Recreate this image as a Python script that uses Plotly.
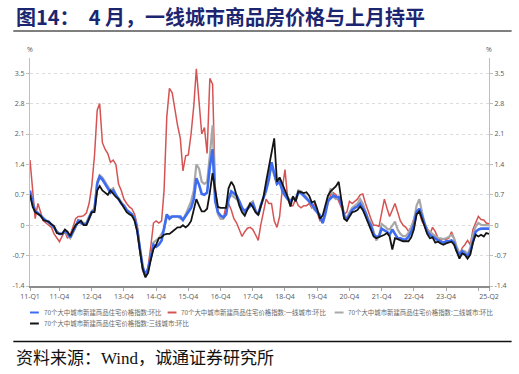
import pandas as pd
import plotly.graph_objects as go

# ---------------- data ----------------
months = pd.date_range("2011-01-01", periods=172, freq="MS")

series_names = [
    "70个大中城市新建商品住宅价格指数:环比",
    "70个大中城市新建商品住宅价格指数:一线城市:环比",
    "70个大中城市新建商品住宅价格指数:二线城市:环比",
    "70个大中城市新建商品住宅价格指数:三线城市:环比",
]

nat_mom = [
    0.8, 0.5, 0.32, 0.28, 0.22, 0.15, 0.1, 0.08, 0.02, -0.05,
    -0.15, -0.2, -0.2, -0.12, -0.18, -0.28, -0.15, -0.02, 0.1, 0.05,
    0.02, 0.02, 0.15, 0.3, 0.35, 0.95, 1.12, 1.05, 0.95, 0.85,
    0.75, 0.8, 0.68, 0.6, 0.5, 0.45, 0.35, 0.3, 0.25, 0.15,
    -0.1, -0.55, -0.95, -1.15, -1.0, -0.75, -0.45, -0.5, -0.45, -0.35,
    -0.05, 0.25, 0.15, 0.2, 0.2, 0.2, 0.2, 0.12, 0.22, 0.3,
    0.4, 0.6, 1.08, 0.93, 0.72, 0.7, 0.75, 1.35, 1.75, 0.55,
    0.3, 0.22, 0.18, 0.25, 0.6, 0.78, 0.72, 0.68, 0.55, 0.4,
    0.32, 0.38, 0.45, 0.5, 0.32, 0.24, 0.45, 0.62, 0.8, 1.05,
    1.45, 1.2, 0.95, 1.0, 0.8, 0.68, 0.6, 0.55, 0.62, 0.58,
    0.75, 0.74, 0.68, 0.63, 0.55, 0.48, 0.38, 0.3, 0.22, 0.05,
    0.25, 0.55, 0.62, 0.68, 0.65, 0.65, 0.5, 0.2, 0.13, 0.25,
    0.35, 0.4, 0.43, 0.5, 0.4, 0.28, 0.1, 0.0, -0.22, -0.26,
    -0.26, -0.08, -0.12, -0.15, -0.22, -0.1, -0.2, -0.3, -0.3, -0.33,
    -0.33, -0.27, -0.15, 0.0, 0.3, 0.38, 0.22, 0.03, -0.15, -0.22,
    -0.26, -0.32, -0.35, -0.38, -0.4, -0.37, -0.37, -0.35, -0.4, -0.6,
    -0.68, -0.6, -0.65, -0.72, -0.6, -0.35, -0.15, -0.1, -0.08, -0.08,
    -0.08, -0.08,
]

tier1_mom = [
    1.5, 0.7, 0.15, 0.5, 0.3, 0.1, 0.05, 0.0, -0.05, -0.2,
    -0.3, -0.38, -0.25, -0.15, -0.3, -0.22, -0.05, 0.15, 0.2, 0.2,
    0.22, 0.28, 0.5, 0.9, 1.6, 2.65, 2.8, 1.9, 1.75, 1.65,
    1.45, 1.5, 1.4, 0.95, 0.8, 0.6, 0.5, 0.42, 0.38, 0.25,
    0.0, -0.6, -1.05, -1.18, -0.95, -0.5, 0.05, 0.1, 0.05, 0.1,
    0.8, 2.5, 3.15, 3.05, 2.65, 2.3, 2.0, 1.25, 1.6, 1.62,
    2.1, 2.75, 3.6, 2.8, 2.1, 2.25, 1.65, 3.38, 3.25, 0.9,
    0.3, 0.15, 0.15, 0.45, 0.5, 0.35, 0.15, 0.05, -0.1, -0.26,
    -0.15, -0.07, -0.05, -0.1, -0.22, -0.35, 0.0, 0.3, 0.6, 0.5,
    0.5, 0.1, -0.05, 0.2, 0.85, 1.28, 0.6, 0.45, 0.45, 0.6,
    0.45, 0.4, 0.45, 0.45, 0.5, 0.4, 0.5, 0.3, 0.1, 0.1,
    0.3, 0.5, 0.7, 0.75, 0.7, 0.55, 0.4, 0.25, 0.3, 0.55,
    0.5, 0.55, 0.6, 0.7, 0.72, 0.5, 0.3, 0.15, 0.0, 0.0,
    -0.03, 0.3, 0.6, 0.38, 0.2, 0.35, 0.5, 0.3, 0.1, 0.0,
    -0.05, -0.14, -0.05, 0.15, 0.35, 0.3, 0.1, 0.0, -0.07, -0.2,
    -0.05, -0.15, -0.3, -0.35, -0.32, -0.33, -0.3, -0.15, -0.3, -0.55,
    -0.7, -0.52, -0.45, -0.35, -0.45, -0.1, 0.05, 0.2, 0.13, 0.12,
    0.05, 0.03,
]

tier2_mom = [
    0.75, 0.5, 0.33, 0.28, 0.22, 0.15, 0.1, 0.05, 0.0, -0.05,
    -0.15, -0.2, -0.2, -0.12, -0.22, -0.3, -0.18, -0.05, 0.12, 0.1,
    0.05, 0.05, 0.2, 0.33, 0.38, 1.0, 1.15, 1.1, 1.0, 0.9,
    0.8, 0.85, 0.7, 0.62, 0.52, 0.45, 0.35, 0.3, 0.25, 0.15,
    -0.1, -0.55, -0.98, -1.2, -1.05, -0.75, -0.4, -0.35, -0.3, -0.2,
    -0.1, 0.2, 0.2, 0.2, 0.2, 0.2, 0.15, 0.12, 0.25, 0.4,
    0.55, 0.8, 1.4, 1.3, 1.0, 0.95, 1.0, 1.6, 2.3, 0.6,
    0.25, 0.15, 0.15, 0.25, 0.6, 0.7, 0.65, 0.6, 0.55, 0.4,
    0.3, 0.4, 0.5, 0.55, 0.35, 0.25, 0.45, 0.62, 0.85, 1.15,
    1.35, 1.15, 0.95, 1.0, 0.85, 0.72, 0.65, 0.55, 0.65, 0.6,
    0.8, 0.78, 0.72, 0.65, 0.55, 0.45, 0.35, 0.3, 0.25, 0.05,
    0.3, 0.6, 0.85, 0.65, 0.6, 0.65, 0.55, 0.25, 0.16, 0.3,
    0.4, 0.45, 0.5, 0.6, 0.5, 0.32, 0.15, 0.05, -0.14, -0.35,
    -0.25, 0.03, -0.02, -0.08, -0.1, 0.0, 0.08, -0.1, -0.2, -0.25,
    -0.25, -0.18, -0.05, 0.1, 0.45, 0.6, 0.32, 0.05, -0.1, -0.15,
    -0.22, -0.25, -0.3, -0.3, -0.32, -0.3, -0.27, -0.22, -0.3, -0.5,
    -0.64, -0.58, -0.6, -0.66, -0.52, -0.22, -0.03, 0.05, 0.01, 0.0,
    0.0, 0.0,
]

tier3_mom = [
    0.7, 0.42, 0.3, 0.25, 0.22, 0.12, 0.1, 0.08, 0.02, -0.02,
    -0.18, -0.2, -0.2, -0.1, -0.15, -0.25, -0.12, 0.0, 0.05, 0.1,
    0.0, 0.0, 0.15, 0.3, 0.3, 0.8, 0.9, 0.8, 0.75, 0.7,
    0.8, 0.72, 0.65, 0.6, 0.5, 0.42, 0.3, 0.25, 0.22, 0.1,
    -0.15, -0.6, -1.0, -1.2, -1.1, -0.8, -0.55, -0.45, -0.3, -0.28,
    -0.22, -0.2, -0.2, -0.15, -0.1, -0.05, -0.05, 0.0, -0.05, 0.0,
    0.1, 0.35, 0.6, 0.45, 0.32, 0.32, 0.38, 0.75, 1.2, 0.8,
    0.42, 0.4, 0.4, 0.4, 0.85, 1.0, 0.9, 0.65, 0.45, 0.3,
    0.22, 0.36, 0.5, 0.42, 0.3, 0.24, 0.45, 0.65, 1.0, 1.35,
    1.65, 2.0, 1.0, 1.1, 0.95, 0.82, 0.65, 0.43, 0.66, 0.55,
    0.78, 0.76, 0.74, 0.76, 0.68, 0.52, 0.55, 0.38, 0.15, 0.22,
    0.45, 0.68, 0.78, 0.85, 0.9, 1.0, 0.55, 0.15, 0.1, 0.2,
    0.3, 0.32, 0.35, 0.43, 0.35, 0.2, 0.05, -0.1, -0.26, -0.3,
    -0.27, -0.26, -0.22, -0.18, -0.26, -0.56, -0.3, -0.32, -0.35, -0.37,
    -0.37, -0.37, -0.28, -0.1, 0.25, 0.32, 0.16, -0.05, -0.2, -0.3,
    -0.28, -0.4, -0.38, -0.42, -0.45, -0.42, -0.4, -0.38, -0.45, -0.62,
    -0.77, -0.65, -0.68, -0.77, -0.68, -0.4, -0.22, -0.26, -0.22, -0.26,
    -0.18, -0.2,
]

x_tick_dates = [
    "2011-01-01", "2011-12-01", "2012-12-01", "2013-12-01", "2014-12-01",
    "2015-12-01", "2016-12-01", "2017-12-01", "2018-12-01", "2019-12-01",
    "2020-12-01", "2021-12-01", "2022-12-01", "2023-12-01", "2024-12-01",
    "2025-04-01",
]
x_tick_text = [
    "11-Q1", "11-Q4", "12-Q4", "13-Q4", "14-Q4", "15-Q4", "16-Q4", "17-Q4",
    "18-Q4", "19-Q4", "20-Q4", "21-Q4", "22-Q4", "23-Q4", "", "25-Q2",
]
y_tick_vals = [-1.4, -0.7, 0, 0.7, 1.4, 2.1, 2.8, 3.5]
y_tick_text = ["-1.4", "-0.7", "0", "0.7", "1.4", "2.1", "2.8", "3.5"]

title_text = "图14：  4 月，一线城市商品房价格与上月持平"
source_text = "资料来源：Wind，诚通证券研究所"

# ---------------- styling ----------------
W, H = 519, 374
L, R, T, B = 23, 490, 58, 286
colors = ["#3D6CF2", "#D65353", "#A8A8A8", "#141414"]
widths = [2.6, 1.5, 2.2, 1.8]
ui_font = "Open Sans, Noto Sans CJK SC, sans-serif"
cjk_font = "Noto Sans CJK SC, sans-serif"


def px_x(x):
    return (x - L) / (R - L)


def px_y(y):
    return (B - y) / (B - T)


fig = go.Figure()
series_data = [nat_mom, tier1_mom, tier2_mom, tier3_mom]
draw_order = [1, 2, 0, 3]
for i in draw_order:
    fig.add_trace(go.Scatter(
        x=months, y=series_data[i], mode="lines", name=series_names[i],
        line=dict(color=colors[i], width=widths[i]),
        yaxis="y2" if i == 3 else "y",
        showlegend=False, hoverinfo="skip",
    ))

axis_font = dict(family=ui_font, size=7, color="#595959")
fig.update_layout(
    width=W, height=H,
    margin=dict(l=L, r=W - R, t=T, b=H - B),
    paper_bgcolor="white", plot_bgcolor="white",
    xaxis=dict(
        type="date", range=["2011-01-01", "2025-04-01"],
        tickmode="array", tickvals=x_tick_dates, ticktext=x_tick_text,
        ticks="outside", ticklen=3, tickcolor="#A6A6A6",
        showline=True, linecolor="#8C8C8C", linewidth=1.5,
        showgrid=False, zeroline=False, tickfont=axis_font,
    ),
    yaxis=dict(
        range=[-1.4, 3.85], tickmode="array", tickvals=y_tick_vals,
        ticktext=y_tick_text, ticks="outside", ticklen=3, tickcolor="#BFBFBF",
        showline=True, linecolor="#BFBFBF", linewidth=1,
        showgrid=True, gridcolor="#DCDCDC", griddash="dot", gridwidth=1,
        zeroline=False, tickfont=axis_font,
    ),
    yaxis2=dict(
        range=[-1.4, 3.85], overlaying="y", side="right", tickmode="array",
        tickvals=y_tick_vals, ticktext=y_tick_text, ticks="outside",
        ticklen=3, tickcolor="#BFBFBF", showline=True, linecolor="#BFBFBF",
        linewidth=1, showgrid=False, zeroline=False, tickfont=axis_font,
    ),
)

annotations = [
    dict(x=px_x(7), y=px_y(16), xref="paper", yref="paper", xanchor="left",
         yanchor="middle", text="<b>" + title_text + "</b>", showarrow=False,
         font=dict(family=cjk_font, size=20, color="#1C2670")),
    dict(x=px_x(7), y=px_y(358), xref="paper", yref="paper", xanchor="left",
         yanchor="middle", text=source_text, showarrow=False,
         font=dict(family="Liberation Serif, Noto Sans CJK SC, serif", size=17,
                   color="#111111")),
    dict(x=0, y=px_y(49), xref="paper", yref="paper", xanchor="center",
         yanchor="middle", text="%", showarrow=False, font=axis_font),
    dict(x=1, y=px_y(49), xref="paper", yref="paper", xanchor="center",
         yanchor="middle", text="%", showarrow=False, font=axis_font),
]

shapes = [
    dict(type="line", xref="paper", yref="paper", x0=px_x(6), x1=px_x(513),
         y0=px_y(31), y1=px_y(31), line=dict(color="#7F7F7F", width=2)),
    dict(type="line", xref="paper", yref="paper", x0=px_x(6), x1=px_x(513),
         y0=px_y(341.5), y1=px_y(341.5), line=dict(color="#111111", width=1.3)),
]

# legend (custom, to match compact reference layout)
legend_pos = [(23, 312.5), (163, 312.5), (333, 312.5), (23, 323.5)]
for i, (lx, ly) in enumerate(legend_pos):
    shapes.append(dict(type="line", xref="paper", yref="paper",
                       x0=px_x(lx), x1=px_x(lx + 9), y0=px_y(ly), y1=px_y(ly),
                       line=dict(color=colors[i], width=2)))
    annotations.append(dict(x=px_x(lx + 12), y=px_y(ly), xref="paper",
                            yref="paper", xanchor="left", yanchor="middle",
                            text=series_names[i], showarrow=False,
                            font=dict(family=cjk_font, size=6.4, color="#666666")))

fig.update_layout(annotations=annotations, shapes=shapes)
fig.write_html(
    "out.html",
    config={"displayModeBar": False},
    post_script="document.body.style.margin='0px';document.body.style.overflow='hidden';",
)
